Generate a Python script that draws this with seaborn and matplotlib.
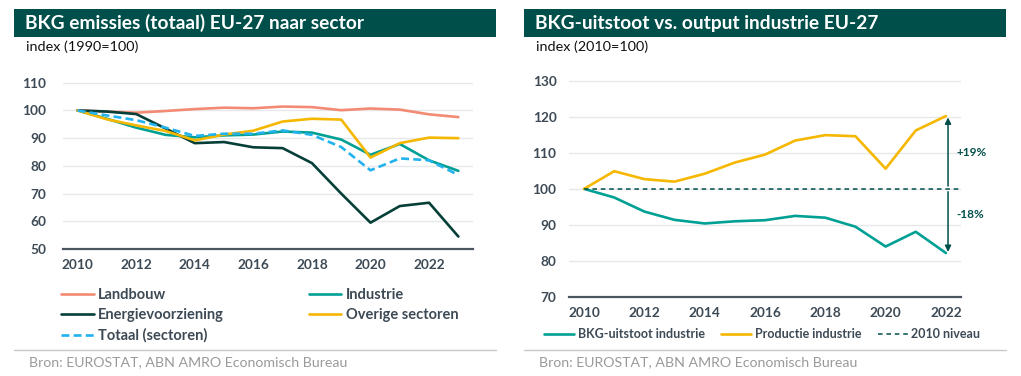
import matplotlib
matplotlib.use("Agg")
import matplotlib.pyplot as plt
from matplotlib.patches import Rectangle
import pandas as pd
import seaborn as sns

# left chart: BKG emissies per sector, index 1990=100
years_left = list(range(2010, 2024))
landbouw = [100, 99.6, 99.2, 99.8, 100.5, 101.0, 100.8, 101.4, 101.2, 100.1, 100.7, 100.3, 98.6, 97.6]
industrie = [100, 97.0, 93.8, 91.2, 90.3, 91.0, 91.3, 92.4, 92.0, 89.5, 84.0, 87.9, 82.0, 78.2]
energie = [100, 99.6, 98.7, 93.5, 88.2, 88.6, 86.7, 86.4, 81.0, 70.0, 59.5, 65.5, 66.7, 54.5]
overige = [100, 96.8, 94.6, 92.6, 89.2, 91.3, 92.7, 96.0, 97.0, 96.7, 83.0, 88.2, 90.2, 90.0]
totaal = [100, 98.2, 96.5, 93.8, 90.8, 91.6, 91.6, 92.8, 91.2, 86.8, 78.4, 82.7, 82.0, 76.7]

# right chart: industry emissions vs output, index 2010=100
years_right = list(range(2010, 2023))
bkg_industrie = [100, 97.6, 93.7, 91.4, 90.4, 91.0, 91.3, 92.5, 92.0, 89.5, 84.0, 88.1, 82.2]
productie = [100, 104.9, 102.7, 102.0, 104.2, 107.3, 109.5, 113.4, 114.9, 114.6, 105.6, 116.2, 120.2]
change_labels = ["+19%", "-18%"]

DARK = "#004F4A"
TXT = "#3D4A55"
GRID = "#E6E8EA"

sns.set_theme(style="white")
plt.rcParams["font.family"] = ["Lato", "DejaVu Sans"]

fig = plt.figure(figsize=(10.21, 3.76), dpi=100)
W, H = 1021, 376


def fx(px):
    return px / W


def fy(py):
    return 1 - py / H


def style_axes(ax, ymin, ymax, step, pad):
    ax.set_ylim(ymin, ymax + step * 0.2)
    ax.set_yticks(range(ymin, ymax + 1, step))
    ax.yaxis.grid(True, color=GRID, lw=1)
    ax.set_axisbelow(True)
    for s in ["top", "right", "left"]:
        ax.spines[s].set_visible(False)
    ax.spines["bottom"].set_color("#4B5560")
    ax.spines["bottom"].set_linewidth(1.6)
    ax.tick_params(axis="y", length=0, pad=pad, labelsize=9.8, labelcolor=TXT)
    ax.tick_params(axis="x", which="major", length=0, pad=7, labelsize=9.8, labelcolor=TXT)
    ax.tick_params(axis="x", which="minor", length=4, width=1.6, color="#4B5560")
    for lab in ax.get_xticklabels() + ax.get_yticklabels():
        lab.set_fontweight("bold")
    ax.set_xlabel("")
    ax.set_ylabel("")


# ---- left panel ----
axl = fig.add_axes([fx(63), fy(249), fx(410), (249 - 77.2) / H])
df_l = pd.DataFrame({"jaar": years_left, "Landbouw": landbouw, "Industrie": industrie,
                     "Energievoorziening": energie, "Overige sectoren": overige,
                     "Totaal (sectoren)": totaal})
series_l = [("Landbouw", "#F28A74", "-"), ("Energievoorziening", "#063F38", "-"),
            ("Totaal (sectoren)", "#22B2EE", "--"), ("Industrie", "#00A094", "-"),
            ("Overige sectoren", "#F5B700", "-")]
draw_order = ["Landbouw", "Industrie", "Energievoorziening", "Overige sectoren", "Totaal (sectoren)"]
handles = {}
for name in draw_order:
    col, ls = [(c, l) for n, c, l in series_l if n == name][0]
    sns.lineplot(data=df_l, x="jaar", y=name, ax=axl, color=col, lw=1.9, label=name)
    line = axl.get_lines()[-1]
    line.set_linestyle(ls)
    if ls == "--":
        line.set_dashes((3, 1.6))
    handles[name] = line
axl.get_legend().remove()
axl.set_xlim(years_left[0] - 0.5, years_left[-1] + 0.5)
axl.set_xticks(years_left[::2])
axl.set_xticks([y - 0.5 for y in years_left] + [years_left[-1] + 0.5], minor=True)
style_axes(axl, 50, 110, 10, 12)

leg = axl.legend([handles[n] for n, _, _ in series_l], [n for n, _, _ in series_l],
                 ncol=2, loc="upper left", bbox_to_anchor=(fx(61), fy(288)),
                 bbox_transform=fig.transFigure, frameon=False, fontsize=10.5,
                 handlelength=2.25, handletextpad=0.3, labelspacing=0.42,
                 columnspacing=5.8, borderpad=0, borderaxespad=0)
for t in leg.get_texts():
    t.set_color(TXT)
    t.set_fontweight("bold")

# ---- right panel ----
axr = fig.add_axes([fx(569), fy(297), fx(392), (297 - 73.5) / H])
df_r = pd.DataFrame({"jaar": years_right, "BKG-uitstoot industrie": bkg_industrie,
                     "Productie industrie": productie})
sns.lineplot(data=df_r, x="jaar", y="BKG-uitstoot industrie", ax=axr, color="#00A094", lw=1.9,
             label="BKG-uitstoot industrie")
sns.lineplot(data=df_r, x="jaar", y="Productie industrie", ax=axr, color="#F5B700", lw=1.9,
             label="Productie industrie")
axr.set_xlim(years_right[0] - 0.5, years_right[-1] + 0.5)
base = productie[0]
axr.hlines(base, years_right[0], years_right[-1] + 0.5, colors=DARK, linestyles=(0, (3, 2.5)),
           lw=1.1, label="2010 niveau")
axr.set_xticks(years_right[::2])
axr.set_xticks([y - 0.5 for y in years_right] + [years_right[-1] + 0.5], minor=True)
style_axes(axr, 70, 130, 10, 9)

ax_x = years_right[-1] + 0.07
axr.annotate("", xy=(ax_x, productie[-1] - 0.4), xytext=(ax_x, base + 0.8),
             arrowprops=dict(arrowstyle="-|>", color=DARK, lw=1.1, mutation_scale=9,
                             shrinkA=0, shrinkB=0))
axr.annotate("", xy=(ax_x, bkg_industrie[-1] + 0.3), xytext=(ax_x, base - 0.8),
             arrowprops=dict(arrowstyle="-|>", color=DARK, lw=1.1, mutation_scale=9,
                             shrinkA=0, shrinkB=0))
axr.text(years_right[-1] + 0.36, (base + productie[-1]) / 2, change_labels[0], color=DARK,
         fontsize=8.5, fontweight="bold", va="center", ha="left", clip_on=False)
axr.text(years_right[-1] + 0.34, (base + bkg_industrie[-1]) / 2 + 1.8, change_labels[1], color=DARK,
         fontsize=8.5, fontweight="bold", va="center", ha="left", clip_on=False)

h, l = axr.get_legend_handles_labels()
axr.get_legend().remove()
leg2 = axr.legend(h, l, ncol=3, loc="upper left", bbox_to_anchor=(fx(544), fy(328)),
                  bbox_transform=fig.transFigure, frameon=False, fontsize=9,
                  handlelength=2.4, handletextpad=0.3, columnspacing=1.3,
                  borderpad=0, borderaxespad=0)
for t in leg2.get_texts():
    t.set_color(TXT)
    t.set_fontweight("bold")

# ---- headers, subtitles, sources ----
titles = [(14, "BKG emissies (totaal) EU-27 naar sector", "index (1990=100)"),
          (524, "BKG-uitstoot vs. output industrie EU-27", "index (2010=100)")]
for x0, title, sub in titles:
    fig.patches.append(Rectangle((fx(x0), fy(37)), fx(482), 28 / H, transform=fig.transFigure,
                                 facecolor=DARK, edgecolor="none"))
    fig.text(fx(x0 + 11), fy(23), title, color="white", fontsize=13.8, fontweight="bold",
             va="center", ha="left")
    fig.text(fx(x0 + 12), fy(47), sub, color="#111111", fontsize=10.4, va="center", ha="left")
    fig.lines.append(plt.Line2D([fx(x0), fx(x0 + 482)], [fy(350), fy(350)],
                                transform=fig.transFigure, color="#C8C8C8", lw=1))
    fig.text(fx(x0 + 15), fy(362), "Bron: EUROSTAT, ABN AMRO Economisch Bureau",
             color="#9A9A9A", fontsize=10.2, va="center", ha="left")

fig.savefig("out.png", dpi=100)
